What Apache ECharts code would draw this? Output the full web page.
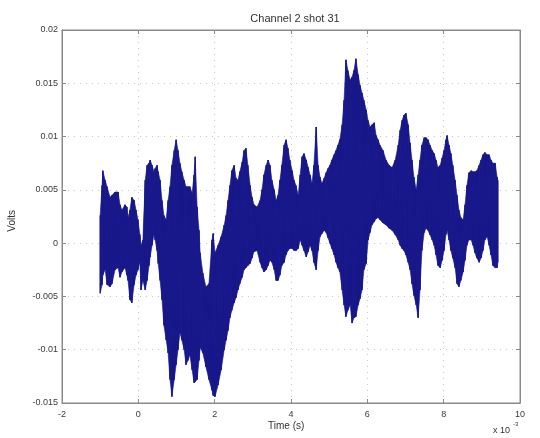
<!DOCTYPE html>
<html>
<head>
<meta charset="utf-8">
<script src="https://cdn.jsdelivr.net/npm/echarts@6/dist/echarts.min.js"></script>
<style>
  html, body { margin: 0; padding: 0; background: #ffffff; }
  #chart { width: 540px; height: 438px; }
</style>
</head>
<body>
<div id="chart"></div>
<script>
// Time in ms (axis shown as "x 10^-3" seconds), voltages in mV.
const timeMs = [
  -1.00, -0.95, -0.93, -0.87, -0.82, -0.74, -0.69, -0.61, -0.53, -0.48,
  -0.43, -0.35, -0.30, -0.27, -0.22, -0.17, -0.11, -0.06, -0.01, 0.04,
  0.07, 0.12, 0.18, 0.23, 0.28, 0.31, 0.36, 0.41, 0.44, 0.49,
  0.52, 0.57, 0.62, 0.67, 0.73, 0.78, 0.83, 0.88, 0.94, 0.99,
  1.04, 1.09, 1.14, 1.20, 1.25, 1.30, 1.35, 1.41, 1.46, 1.49,
  1.54, 1.59, 1.62, 1.69, 1.77, 1.85, 1.93, 1.96, 2.01, 2.09,
  2.17, 2.25, 2.30, 2.35, 2.40, 2.45, 2.51, 2.56, 2.61, 2.66,
  2.72, 2.77, 2.82, 2.87, 2.93, 2.98, 3.03, 3.11, 3.19, 3.24,
  3.29, 3.35, 3.40, 3.45, 3.50, 3.56, 3.61, 3.66, 3.71, 3.76,
  3.82, 3.87, 3.92, 3.97, 4.03, 4.08, 4.13, 4.19, 4.24, 4.29,
  4.34, 4.40, 4.45, 4.50, 4.55, 4.60, 4.66, 4.71, 4.76, 4.81,
  4.87, 4.92, 4.97, 5.02, 5.07, 5.13, 5.18, 5.23, 5.28, 5.34,
  5.39, 5.44, 5.49, 5.55, 5.60, 5.65, 5.70, 5.76, 5.81, 5.86,
  5.91, 5.97, 6.02, 6.07, 6.12, 6.18, 6.23, 6.28, 6.33, 6.41,
  6.49, 6.57, 6.65, 6.73, 6.81, 6.86, 6.91, 6.96, 7.01, 7.07,
  7.12, 7.17, 7.22, 7.28, 7.33, 7.38, 7.43, 7.49, 7.54, 7.59,
  7.64, 7.70, 7.75, 7.80, 7.85, 7.91, 7.96, 8.01, 8.06, 8.09,
  8.14, 8.19, 8.24, 8.30, 8.35, 8.40, 8.45, 8.51, 8.56, 8.61,
  8.66, 8.72, 8.77, 8.82, 8.87, 8.93, 8.98, 9.03, 9.08, 9.14,
  9.19, 9.24, 9.29, 9.35, 9.40, 9.42
];
const upperMv = [
  2.6, 5.4, 6.8, 5.9, 5.3, 4.3, 4.5, 4.8, 4.8, 3.6,
  3.1, 3.6, 3.4, 2.4, 3.1, 4.3, 4.0, 3.1, 2.2, 0.8,
  -0.2, 0.3, 5.9, 7.3, 7.5, 7.8, 7.3, 6.7, 7.0, 7.3,
  6.7, 5.9, 4.0, 2.6, 2.2, 4.0, 5.3, 7.3, 8.7, 9.7,
  8.7, 7.5, 6.7, 5.9, 5.3, 5.3, 5.3, 4.7, 6.4, 8.1,
  3.4, 1.2, -0.9, -2.8, -4.1, -3.8, 0.3, 0.9, -0.9, -0.2,
  0.6, 1.7, 2.6, 4.0, 5.4, 6.8, 7.3, 6.1, 5.9, 6.7,
  7.6, 8.7, 8.9, 7.3, 5.4, 4.3, 3.6, 3.4, 4.0, 5.0,
  6.4, 7.3, 7.8, 7.3, 5.9, 5.0, 4.0, 4.5, 5.9, 7.3,
  9.2, 9.7, 8.9, 7.8, 6.8, 5.9, 5.4, 4.5, 6.4, 8.1,
  8.4, 7.8, 7.1, 6.4, 5.6, 7.3, 10.9, 7.3, 6.2, 5.6,
  6.1, 6.6, 7.0, 7.3, 7.8, 8.3, 8.7, 9.2, 9.7, 11.1,
  13.4, 17.2, 16.2, 15.3, 15.6, 16.2, 17.3, 15.8, 14.8, 14.1,
  13.4, 12.5, 11.5, 10.9, 11.1, 11.3, 10.1, 9.7, 9.2, 8.7,
  7.8, 7.3, 7.1, 7.8, 9.2, 10.6, 11.5, 12.0, 12.2, 11.1,
  9.4, 7.8, 6.2, 5.0, 6.4, 7.8, 9.2, 9.9, 9.9, 9.7,
  9.2, 8.7, 8.4, 7.8, 7.1, 7.3, 8.0, 8.7, 9.7, 10.1,
  9.2, 8.4, 7.3, 5.9, 4.5, 3.1, 2.4, 2.2, 3.6, 5.4,
  6.6, 6.8, 6.7, 6.7, 6.8, 7.3, 7.8, 8.3, 8.5, 8.3,
  8.3, 7.8, 7.5, 7.5, 6.2, 5.9
];
const lowerMv = [
  -4.7, -3.9, -3.0, -2.5, -3.9, -4.1, -3.8, -2.5, -2.3, -3.2,
  -2.7, -2.3, -3.0, -3.5, -5.3, -5.6, -3.9, -3.0, -2.5, -1.8,
  -4.4, -3.5, -4.4, -3.5, -2.1, -1.3, -0.2, 0.8, 0.3, -0.7,
  -1.9, -3.5, -5.3, -7.7, -9.1, -10.3, -12.8, -14.4, -12.8, -11.4,
  -10.0, -8.4, -9.1, -10.0, -11.4, -11.0, -10.5, -11.9, -13.1, -13.0,
  -12.8, -11.0, -9.8, -10.3, -11.6, -12.8, -13.8, -14.3, -14.4, -13.3,
  -11.9, -10.0, -9.1, -8.2, -7.0, -6.3, -5.6, -5.1, -4.4, -3.8,
  -3.2, -2.5, -2.3, -2.1, -1.9, -1.4, -0.8, -0.7, -1.8, -2.3,
  -2.7, -2.5, -2.1, -1.6, -1.8, -2.5, -3.5, -3.5, -3.0, -2.1,
  -1.8, -1.1, -0.7, -0.5, -0.5, -0.7, -0.7, -0.5, 0.3, -0.2,
  -0.7, -1.3, -0.8, -0.2, -0.7, -1.8, -2.5, -0.7, 0.6, 0.9,
  1.2, 1.0, 0.5, 0.0, -0.5, -1.1, -1.8, -2.3, -2.7, -4.4,
  -5.8, -6.9, -6.3, -5.8, -7.5, -7.0, -6.9, -5.8, -5.2, -4.4,
  -2.5, -1.9, 0.3, 1.0, 1.7, 2.0, 2.3, 2.4, 2.2, 1.9,
  1.7, 1.4, 1.2, 0.8, 0.3, -0.2, -0.5, -0.7, -1.1, -1.8,
  -2.5, -3.8, -4.9, -5.8, -7.0, -4.4, -0.7, 1.0, 1.4, 1.2,
  0.8, 0.3, -0.2, -1.1, -2.1, -2.3, -1.6, -0.7, 0.8, 1.2,
  0.3, -0.7, -1.4, -2.3, -3.8, -4.1, -3.5, -2.7, -1.6, -0.2,
  0.3, 0.3, -0.2, -0.9, -1.4, -1.8, -1.4, -0.7, 0.3, 0.6,
  -0.2, -1.1, -2.1, -2.3, -2.3, -1.8
];
const xTickValues = [-2, 0, 2, 4, 6, 8, 10];
const yTickValues = [-0.015, -0.01, -0.005, 0, 0.005, 0.01, 0.015, 0.02];

const traceColor = '#18188a';

// Alternate between the high and low value of each sample so the edge of
// the trace reads as a dense oscillating signal.
const trace = [];
timeMs.forEach((t, i) => {
  trace.push([t, upperMv[i] / 1000]);
  trace.push([t, lowerMv[i] / 1000]);
});
// One item per sample: [time, low, high]; the band between neighbours is filled.
const band = timeMs.map((t, i) => [t, lowerMv[i] / 1000, upperMv[i] / 1000]);

function renderBand(params, api) {
  const i = params.dataIndex;
  if (i >= band.length - 1) return null;
  const a = band[i], b = band[i + 1];
  const pts = [
    api.coord([a[0], a[2]]), api.coord([b[0], b[2]]),
    api.coord([b[0], b[1]]), api.coord([a[0], a[1]])
  ];
  return {
    type: 'polygon',
    shape: { points: pts },
    style: { fill: traceColor, stroke: traceColor, lineWidth: 0.6 }
  };
}

const fontFamily = 'Liberation Sans, Arial, sans-serif';
const fmtY = v => String(Number(v.toFixed(3)));
const labelFont = { fontFamily: fontFamily, fontSize: 9, color: '#3a3a3a' };
const gridLine = { show: true, lineStyle: { color: '#c8c8c8', type: [1, 5], width: 1 } };
const frame = { show: true, onZero: false, lineStyle: { color: '#8a8a8a' } };
const ticksIn = { show: true, inside: true, length: 4, lineStyle: { color: '#8a8a8a' } };

const chart = echarts.init(document.getElementById('chart'), null, { renderer: 'canvas' });
chart.setOption({
  animation: false,
  backgroundColor: '#ffffff',
  grid: { left: 62, right: 20, top: 30, bottom: 35, show: true, borderColor: '#8a8a8a', borderWidth: 1 },
  title: {
    text: 'Channel 2 shot 31',
    left: 290, top: 8, textAlign: 'center',
    textStyle: { fontFamily: fontFamily, fontSize: 11, fontWeight: 'normal', color: '#333' }
  },
  xAxis: [{
    type: 'value', min: xTickValues[0], max: xTickValues[xTickValues.length - 1], interval: 2,
    axisLine: frame, axisTick: ticksIn,
    axisLabel: Object.assign({ margin: 7 }, labelFont),
    splitLine: gridLine
  }, {
    type: 'value', position: 'top', min: xTickValues[0], max: xTickValues[xTickValues.length - 1], interval: 2,
    axisLine: frame, axisTick: ticksIn,
    axisLabel: { show: false }, splitLine: { show: false }
  }],
  yAxis: [{
    type: 'value', min: yTickValues[0], max: yTickValues[yTickValues.length - 1], interval: 0.005,
    axisLine: frame, axisTick: ticksIn,
    axisLabel: Object.assign({ margin: 4, formatter: fmtY }, labelFont),
    splitLine: gridLine
  }, {
    type: 'value', position: 'right', min: yTickValues[0], max: yTickValues[yTickValues.length - 1], interval: 0.005,
    axisLine: frame, axisTick: ticksIn,
    axisLabel: { show: false }, splitLine: { show: false }
  }],
  graphic: [
    { type: 'text', left: 7, top: 210, rotation: Math.PI / 2,
      style: { text: 'Volts', font: '10px ' + fontFamily, fill: '#333' } },
    { type: 'text', left: 268, top: 421,
      style: { text: 'Time (s)', font: '10px ' + fontFamily, fill: '#333' } },
    { type: 'text', left: 493, top: 426,
      style: { text: 'x 10', font: '9px ' + fontFamily, fill: '#333' } },
    { type: 'text', left: 513, top: 421,
      style: { text: '-3', font: '6px ' + fontFamily, fill: '#333' } }
  ],
  series: [{
    type: 'custom', data: band, renderItem: renderBand,
    encode: { x: 0, y: [1, 2] }, silent: true
  }, {
    type: 'line', data: trace,
    showSymbol: false, symbol: 'none', sampling: null,
    lineStyle: { color: traceColor, width: 1.2 }, silent: true
  }]
});
</script>
</body>
</html>
